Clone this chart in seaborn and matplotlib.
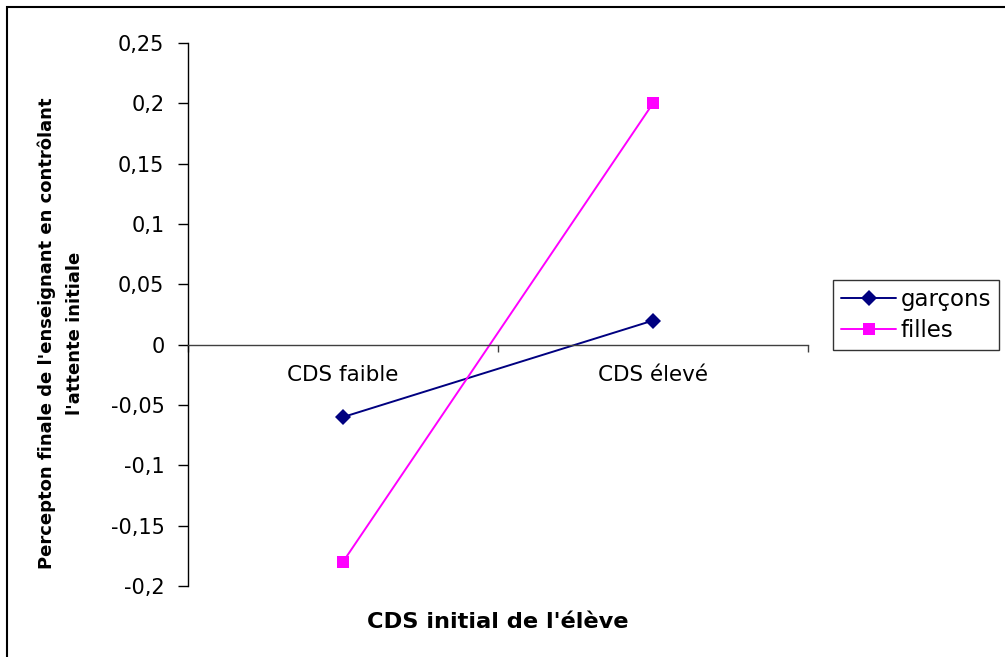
import matplotlib
matplotlib.use("Agg")
import matplotlib.pyplot as plt
import matplotlib.ticker as mticker
from matplotlib.patches import Rectangle
from matplotlib.lines import Line2D
import seaborn as sns
import pandas as pd

categories = ["CDS faible", "CDS élevé"]
garcons = [-0.06, 0.02]
filles = [-0.18, 0.2]
series_names = ["garçons", "filles"]
y_ticks = [-0.2, -0.15, -0.1, -0.05, 0, 0.05, 0.1, 0.15, 0.2, 0.25]

sns.set_style("white")
plt.rcParams['font.family'] = ['DejaVu Sans']
plt.rcParams['text.color'] = 'black'
plt.rcParams['xtick.color'] = 'black'
plt.rcParams['ytick.color'] = 'black'

pos = list(range(len(categories)))
df = pd.DataFrame({
    "x": pos * 2,
    "y": garcons + filles,
    "serie": [series_names[0]] * len(pos) + [series_names[1]] * len(pos),
})

fig = plt.figure(figsize=(10.05, 6.57), dpi=100)
ax = fig.add_axes([188/1005, 1-586/657, 620/1005, 543/657])

palette = {"garçons": "#000080", "filles": "#FF00FF"}
markers = {"garçons": "D", "filles": "s"}
sns.lineplot(data=df, x="x", y="y", hue="serie", style="serie", palette=palette,
             markers=markers, dashes=False, markersize=8, linewidth=1.4,
             markeredgewidth=0, ax=ax, legend=False)

ax.set_xlim(-0.5, len(categories) - 0.5)
ax.set_ylim(-0.2, 0.25)
ax.set_yticks(y_ticks)
ax.yaxis.set_major_formatter(mticker.FuncFormatter(
    lambda v, p: ("%g" % round(v, 2)).replace(".", ",")))
ax.tick_params(axis="y", direction="out", length=7, width=1, color="black",
               labelsize=15, pad=10, left=True, labelcolor="black")

for s in ["top", "right"]:
    ax.spines[s].set_visible(False)
ax.spines["left"].set_color("black")
ax.spines["left"].set_linewidth(1)
ax.spines["bottom"].set_position(("data", 0))
ax.spines["bottom"].set_color("#404040")
ax.spines["bottom"].set_linewidth(1)

ax.set_xticks(pos)
ax.set_xticklabels(categories)
ax.set_xticks([p - 0.5 for p in pos] + [pos[-1] + 0.5], minor=True)
ax.tick_params(axis="x", which="major", length=0, labelsize=15.5, pad=15,
               labelcolor="black")
ax.tick_params(axis="x", which="minor", direction="out", length=5, width=1,
               color="#404040", bottom=True)

ax.set_xlabel("")
ax.set_ylabel("")
fig.text((188+808)/2/1005, 1-622/657, "CDS initial de l'élève",
         ha="center", va="center", fontsize=16.2, fontweight="bold", color="black")
fig.text(61/1005, 1-333/657, "Percepton finale de l'enseignant en contrôlant\nl'attente initiale",
         ha="center", va="center", rotation=90, fontsize=13, fontweight="bold",
         linespacing=1.75, color="black")

handles = [Line2D([], [], color=palette[n], marker=markers[n], markersize=8,
                  markeredgewidth=0, linewidth=1.4) for n in series_names]
leg = fig.legend(handles, series_names, loc="upper left",
                 bbox_to_anchor=(833/1005, 1-280/657), frameon=True,
                 fontsize=16.5, handlelength=2.4, borderpad=0.35, labelspacing=0.35,
                 handletextpad=0.2, fancybox=False, shadow=False, borderaxespad=0)
leg.get_frame().set_edgecolor("black")
leg.get_frame().set_linewidth(1)
for t in leg.get_texts():
    t.set_color("black")

fig.patches.append(Rectangle((7/1005, -0.1), 1.2, 1 - 7/657 + 0.1,
                             transform=fig.transFigure, fill=False,
                             edgecolor="black", linewidth=1.5))

fig.savefig("out.png", dpi=100)
